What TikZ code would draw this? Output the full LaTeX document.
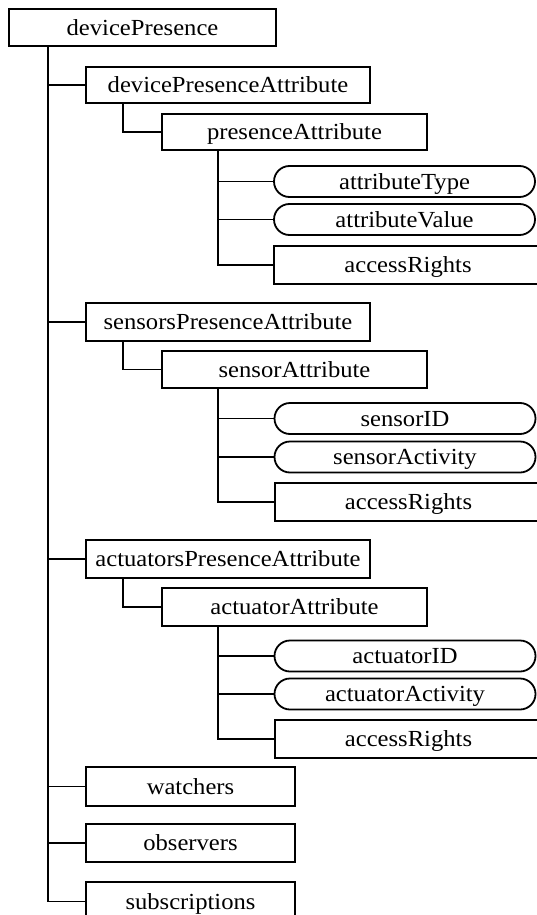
\documentclass[tikz,border=0pt]{standalone}
\usepackage{fontspec}
\setmainfont{Liberation Serif}[FakeStretch=1.07]
\usetikzlibrary{shapes.misc}
\begin{document}
\begin{tikzpicture}[x=1pt,y=-1pt,
  line width=1.8pt,
  lbl/.style={font=\fontsize{23}{25}\selectfont, inner sep=0pt, text height=17.5pt, text depth=2pt},
  rbox/.style={lbl, draw, rectangle, minimum width=#1},
  obox/.style={lbl, draw, rounded rectangle, minimum width=261pt, minimum height=31pt},
  conn/.style={line width=1.8pt}]
\useasboundingbox (0,0) rectangle (536,915);
% level 0
\node[rbox=267pt, minimum height=37pt] (dp) at (142.5,27.5) {devicePresence};
% level 1
\node[rbox=284pt, minimum height=36pt] (dpa) at (228,85) {devicePresenceAttribute};
\node[rbox=284pt, minimum height=38pt] (spa) at (228,322) {sensorsPresenceAttribute};
\node[rbox=284pt, minimum height=38pt] (apa) at (228,559) {actuatorsPresenceAttribute};
\node[rbox=209pt, minimum height=39pt] (wat) at (190.5,786.5) {watchers};
\node[rbox=209pt, minimum height=38pt] (obs) at (190.5,843) {observers};
\node[rbox=209pt, minimum height=39pt] (sub) at (190.5,901.5) {subscriptions};
% level 2
\node[rbox=265pt, minimum height=36pt] (pa) at (294.5,132) {presenceAttribute};
\node[rbox=265pt, minimum height=37pt] (sa) at (294.5,369.5) {sensorAttribute};
\node[rbox=265pt, minimum height=38pt] (aa) at (294.5,607) {actuatorAttribute};
% level 3 - presence
\node[obox] (at) at (404.5,181.5) {attributeType};
\node[obox] (av) at (404.5,219.5) {attributeValue};
\node[rbox=268pt, minimum height=38pt] (ar1) at (408,265) {accessRights};
% level 3 - sensor
\node[obox] (sid) at (405,418.5) {sensorID};
\node[obox] (sac) at (405,457) {sensorActivity};
\node[rbox=267pt, minimum height=38pt] (ar2) at (408.5,502) {accessRights};
% level 3 - actuator
\node[obox] (aid) at (405,656) {actuatorID};
\node[obox] (aac) at (405,694) {actuatorActivity};
\node[rbox=267pt, minimum height=38pt] (ar3) at (408.5,739) {accessRights};
% connectors from root
\foreach \c in {dpa,spa,apa,wat,obs,sub}
  \draw[conn] ([xshift=39.5pt]dp.south west) |- (\c.west);
% level 1 -> level 2
\draw[conn] ([xshift=38pt]dpa.south west) |- (pa.west);
\draw[conn] ([xshift=38pt]spa.south west) |- (sa.west);
\draw[conn] ([xshift=38pt]apa.south west) |- (aa.west);
% level 2 -> level 3
\foreach \c in {at,av,ar1}
  \draw[conn] ([xshift=56.5pt]pa.south west) |- (\c.west);
\foreach \c in {sid,sac,ar2}
  \draw[conn] ([xshift=56.5pt]sa.south west) |- (\c.west);
\foreach \c in {aid,aac,ar3}
  \draw[conn] ([xshift=56.5pt]aa.south west) |- (\c.west);
\end{tikzpicture}
\end{document}
